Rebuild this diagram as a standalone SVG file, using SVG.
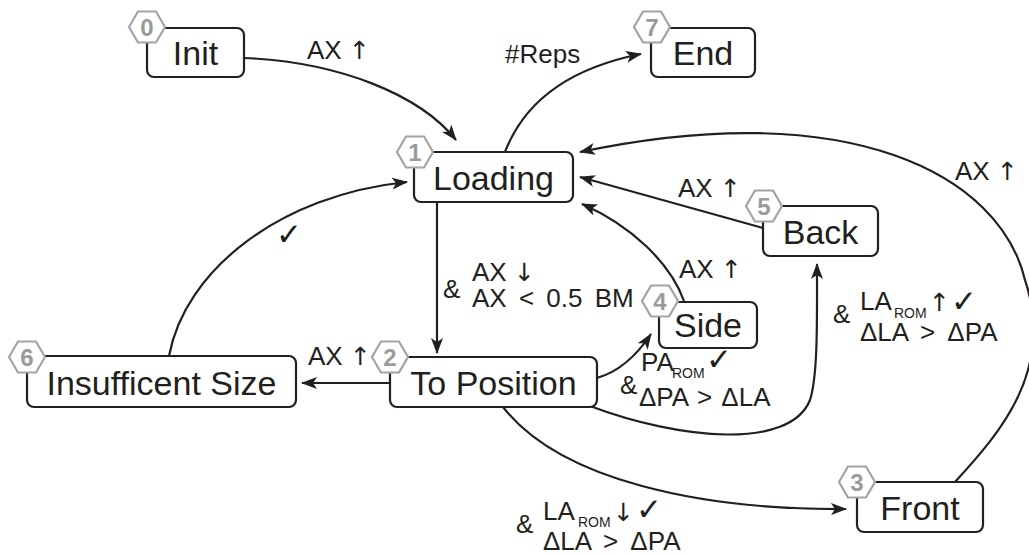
<svg xmlns="http://www.w3.org/2000/svg" xmlns:xlink="http://www.w3.org/1999/xlink" width="1029" height="554" viewBox="0 0 1029 554">
  <style>
    .box { fill: #ffffff; stroke: #231f20; stroke-width: 2.2; }
    .hex { fill: #ffffff; stroke: #a3a3a3; stroke-width: 2.2; }
    .num { fill: #9b9b9b; font-family: "Liberation Sans", "DejaVu Sans", sans-serif; font-size: 24px; font-weight: bold; text-anchor: middle; }
    .name { fill: #231f20; font-family: "Liberation Sans", "DejaVu Sans", sans-serif; font-size: 34px; text-anchor: middle; }
    .edge { fill: none; stroke: #231f20; stroke-width: 2.2; marker-end: url(#tip); }
    .lbl { fill: #231f20; font-family: "Liberation Sans", "DejaVu Sans", sans-serif; font-size: 26px; }
    .arr { font-family: "DejaVu Sans", sans-serif; font-size: 25px; }
    .sub { fill: #231f20; font-family: "Liberation Sans", "DejaVu Sans", sans-serif; font-size: 14px; }
    .chk { fill: #231f20; font-family: "DejaVu Sans", sans-serif; font-size: 31px; }
  </style>
  <defs>
    <marker id="tip" viewBox="0 0 16 12" refX="15" refY="6" markerWidth="16" markerHeight="12" markerUnits="userSpaceOnUse" orient="auto">
      <path d="M0,0 L16,6 L0,12 L4,6 Z" fill="#231f20"/>
    </marker>
    <path id="hex" d="M-18,0 L-9,-15.5 L9,-15.5 L18,0 L9,15.5 L-9,15.5 Z"/>
  </defs>

  <rect width="1029" height="554" fill="#ffffff"/>

  <!-- transitions between states -->
  <g id="connectors">
    <path class="edge" d="M244,58 C340,62 420,95 456,140"/>
    <path class="edge" d="M505,152 C525,100 570,68 641,54"/>
    <path class="edge" d="M437,202 L437,353"/>
    <path class="edge" d="M684,301 C670,262 630,225 582,204"/>
    <path class="edge" d="M763,228 L580,177"/>
    <path class="edge" d="M955,482 C1000,433 1055,370 1025,280 C1000,175 850,95 580,152"/>
    <path class="edge" d="M390,383 L302,383"/>
    <path class="edge" d="M169,356 C185,270 280,195 407,182"/>
    <path class="edge" d="M597,378 C618,372 637,355 651,334"/>
    <path class="edge" d="M590,406 C680,440 790,450 810,400 C818,375 817,320 817,264"/>
    <path class="edge" d="M503,407 C560,480 700,510 846,509"/>

    <!-- transition conditions -->
    <text class="lbl" x="307" y="59">AX <tspan class="arr">↑</tspan></text>
    <text class="lbl" x="505" y="63">#Reps</text>
    <text class="lbl" x="443" y="298">&amp;</text>
    <text class="lbl" x="472" y="281">AX <tspan class="arr">↓</tspan></text>
    <text class="lbl" x="472" y="307" word-spacing="5">AX &lt; 0.5 BM</text>
    <text class="lbl" x="678" y="197">AX <tspan class="arr">↑</tspan></text>
    <text class="lbl" x="679" y="278">AX <tspan class="arr">↑</tspan></text>
    <text class="lbl" x="308" y="365">AX <tspan class="arr">↑</tspan></text>
    <text class="lbl" x="955" y="180">AX <tspan class="arr">↑</tspan></text>
    <text class="chk" x="276" y="245">✓</text>

    <text class="lbl" x="620" y="394">&amp;</text>
    <text class="lbl" x="641" y="371">PA</text>
    <text class="sub" x="672" y="378">ROM</text>
    <text class="chk" x="706" y="370">✓</text>
    <text class="lbl" x="639" y="406" font-size="24" word-spacing="2">ΔPA &gt; ΔLA</text>

    <text class="lbl" x="833" y="323">&amp;</text>
    <text class="lbl" x="860" y="310">LA</text>
    <text class="sub" x="894" y="318">ROM</text>
    <text class="lbl arr" x="929" y="311">↑</text>
    <text class="chk" x="951" y="312">✓</text>
    <text class="lbl" x="860" y="341" word-spacing="5">ΔLA &gt; ΔPA</text>

    <text class="lbl" x="516" y="533">&amp;</text>
    <text class="lbl" x="543" y="520">LA</text>
    <text class="sub" x="578" y="527">ROM</text>
    <text class="lbl arr" x="613" y="521">↓</text>
    <text class="chk" x="636" y="520">✓</text>
    <text class="lbl" x="543" y="550" word-spacing="5">ΔLA &gt; ΔPA</text>
  </g>

  <g id="node-init">
    <rect class="box" x="147" y="28" width="97" height="49" rx="7"/>
    <use xlink:href="#hex" class="hex" x="147" y="27"/>
    <text class="num" x="147" y="35.5">0</text>
    <text class="name" x="195.5" y="65">Init</text>
  </g>

  <g id="node-loading">
    <rect class="box" x="414" y="152" width="159" height="50" rx="7"/>
    <use xlink:href="#hex" class="hex" x="415" y="152"/>
    <text class="num" x="415" y="160.5">1</text>
    <text class="name" x="493.5" y="190">Loading</text>
  </g>

  <g id="node-to-position">
    <rect class="box" x="390" y="357" width="207" height="50" rx="7"/>
    <use xlink:href="#hex" class="hex" x="390" y="357"/>
    <text class="num" x="390" y="365.5">2</text>
    <text class="name" x="493.5" y="395">To Position</text>
  </g>

  <g id="node-front">
    <rect class="box" x="857" y="482" width="126" height="50" rx="7"/>
    <use xlink:href="#hex" class="hex" x="857" y="482"/>
    <text class="num" x="857" y="490.5">3</text>
    <text class="name" x="920" y="520">Front</text>
  </g>

  <g id="node-side">
    <rect class="box" x="659" y="302" width="98" height="46" rx="7"/>
    <use xlink:href="#hex" class="hex" x="660" y="301"/>
    <text class="num" x="660" y="309.5">4</text>
    <text class="name" x="708" y="337">Side</text>
  </g>

  <g id="node-back">
    <rect class="box" x="763" y="206" width="115" height="50" rx="7"/>
    <use xlink:href="#hex" class="hex" x="764" y="206"/>
    <text class="num" x="764" y="214.5">5</text>
    <text class="name" x="820.5" y="244">Back</text>
  </g>

  <g id="node-insufficient">
    <rect class="box" x="27" y="356" width="269" height="51" rx="7"/>
    <use xlink:href="#hex" class="hex" x="27" y="357"/>
    <text class="num" x="27" y="365.5">6</text>
    <text class="name" x="161.5" y="395">Insufficent Size</text>
  </g>

  <g id="node-end">
    <rect class="box" x="651" y="28" width="104" height="49" rx="7"/>
    <use xlink:href="#hex" class="hex" x="652" y="27"/>
    <text class="num" x="652" y="35.5">7</text>
    <text class="name" x="703" y="65">End</text>
  </g>
</svg>
